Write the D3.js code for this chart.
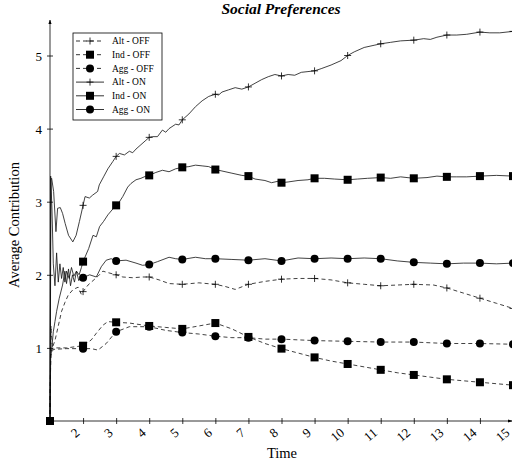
<!DOCTYPE html>
<html>
<head>
<meta charset="utf-8">
<script src="https://cdn.jsdelivr.net/npm/d3@7"></script>
<style>
  body { margin: 0; background: #fff; }
  text { font-family: "Liberation Serif", "DejaVu Serif", serif; fill: #000; }
</style>
</head>
<body>
<div id="chart"></div>
<script>
// [time, average contribution]
const altOff = [[1,0],[1.03,1.3],[1.07,1.0],[1.15,1.1],[1.25,1.3],[1.35,1.5],[1.45,1.62],[1.55,1.72],[1.7,1.8],[1.85,1.83],[1.95,1.73],[2,1.77],[2.15,1.86],[2.3,1.92],[2.45,1.98],[2.6,2.05],[2.75,2.03],[3,2.0],[3.2,1.97],[3.5,1.96],[3.8,1.97],[4,1.97],[4.3,1.93],[4.6,1.88],[5,1.87],[5.5,1.89],[6,1.87],[6.3,1.84],[6.6,1.8],[7,1.87],[7.5,1.91],[8,1.94],[8.5,1.95],[9,1.95],[9.5,1.93],[10,1.89],[10.5,1.87],[11,1.85],[11.5,1.86],[12,1.87],[12.6,1.86],[13,1.82],[13.5,1.75],[14,1.68],[14.5,1.61],[15,1.54]];
const indOff = [[1,0],[1.02,0.95],[1.1,1.0],[1.5,1.0],[2,1.03],[2.25,1.11],[2.4,1.2],[2.6,1.31],[2.75,1.36],[3,1.35],[3.4,1.34],[4,1.3],[4.5,1.28],[5,1.26],[5.5,1.3],[6,1.34],[6.5,1.26],[7,1.15],[7.5,1.06],[8,0.99],[8.5,0.93],[9,0.87],[9.5,0.82],[10,0.78],[10.5,0.74],[11,0.7],[11.5,0.66],[12,0.63],[12.5,0.6],[13,0.57],[13.5,0.55],[14,0.53],[14.5,0.51],[15,0.49]];
const aggOff = [[1,0],[1.02,0.9],[1.1,0.98],[1.5,0.99],[2,0.99],[2.25,0.99],[2.45,0.97],[2.7,1.06],[2.9,1.17],[3,1.22],[3.4,1.29],[4,1.29],[4.5,1.24],[5,1.21],[5.5,1.19],[6,1.16],[6.5,1.14],[7,1.14],[7.5,1.12],[8,1.12],[9,1.1],[10,1.09],[11,1.08],[12,1.08],[13,1.06],[14,1.06],[15,1.05]];
const altOn = [[1,0],[1.03,3.3],[1.05,3.32],[1.11,3.14],[1.18,2.59],[1.23,2.91],[1.31,2.92],[1.38,2.84],[1.46,2.7],[1.56,2.54],[1.69,2.45],[1.79,2.54],[1.89,2.73],[2,2.95],[2.06,3.07],[2.19,3.05],[2.29,3.09],[2.44,3.14],[2.49,3.23],[2.62,3.34],[2.75,3.45],[2.9,3.55],[3,3.62],[3.1,3.66],[3.25,3.64],[3.4,3.69],[3.5,3.67],[3.6,3.72],[3.75,3.78],[3.9,3.84],[4,3.88],[4.1,3.89],[4.25,3.89],[4.4,3.98],[4.5,3.95],[4.6,4.0],[4.8,4.06],[4.9,4.05],[5,4.12],[5.2,4.2],[5.4,4.3],[5.6,4.38],[5.8,4.44],[6,4.47],[6.1,4.46],[6.2,4.5],[6.4,4.53],[6.6,4.56],[6.8,4.54],[7,4.57],[7.2,4.62],[7.4,4.67],[7.6,4.71],[7.8,4.74],[8,4.72],[8.2,4.74],[8.4,4.73],[8.6,4.77],[8.8,4.78],[9,4.79],[9.2,4.82],[9.5,4.87],[9.8,4.93],[10,5.0],[10.2,5.05],[10.5,5.11],[10.8,5.14],[11,5.16],[11.3,5.18],[11.6,5.2],[12,5.21],[12.3,5.23],[12.5,5.22],[12.7,5.25],[13,5.28],[13.3,5.28],[13.6,5.29],[14,5.32],[14.3,5.31],[14.6,5.31],[15,5.33]];
const indOn = [[1,0],[1.02,3.35],[1.06,2.9],[1.1,2.15],[1.15,1.85],[1.2,2.3],[1.25,1.9],[1.3,2.15],[1.35,1.95],[1.4,2.1],[1.45,1.9],[1.5,2.05],[1.58,1.95],[1.65,2.1],[1.72,1.98],[1.8,2.05],[1.88,2.0],[1.95,2.1],[2,2.18],[2.17,2.36],[2.3,2.54],[2.4,2.52],[2.5,2.66],[2.62,2.73],[2.75,2.82],[2.9,2.9],[3,2.95],[3.1,3.0],[3.2,3.07],[3.35,3.2],[3.45,3.25],[3.6,3.3],[3.75,3.32],[3.9,3.35],[4,3.36],[4.2,3.4],[4.4,3.43],[4.6,3.41],[4.8,3.45],[5,3.47],[5.2,3.48],[5.4,3.5],[5.6,3.49],[5.8,3.48],[6,3.44],[6.2,3.42],[6.5,3.39],[6.8,3.36],[7,3.35],[7.2,3.31],[7.5,3.29],[7.7,3.26],[7.9,3.28],[8,3.26],[8.2,3.27],[8.5,3.29],[8.8,3.3],[9,3.32],[9.3,3.32],[9.6,3.31],[10,3.3],[10.3,3.31],[10.6,3.32],[11,3.33],[11.3,3.32],[11.6,3.34],[12,3.32],[12.4,3.33],[12.7,3.35],[13,3.34],[13.3,3.34],[13.6,3.34],[14,3.35],[14.5,3.36],[15,3.35]];
const aggOn = [[1,0],[1.02,0.85],[1.05,0.97],[1.1,1.22],[1.15,1.36],[1.2,1.5],[1.28,1.68],[1.38,1.86],[1.45,2.05],[1.5,1.88],[1.56,2.08],[1.62,1.85],[1.68,2.0],[1.74,1.9],[1.8,2.05],[1.87,1.92],[1.95,1.98],[2,1.96],[2.2,2.0],[2.4,1.97],[2.55,2.11],[2.7,2.2],[2.85,2.22],[3,2.19],[3.3,2.2],[3.6,2.16],[3.8,2.13],[4,2.14],[4.25,2.18],[4.6,2.24],[4.8,2.22],[5,2.21],[5.4,2.24],[5.7,2.22],[6,2.22],[6.5,2.21],[7,2.2],[7.5,2.22],[8,2.19],[8.5,2.23],[9,2.22],[9.5,2.23],[10,2.22],[10.5,2.23],[11,2.22],[11.5,2.19],[12,2.17],[12.5,2.16],[13,2.15],[13.5,2.16],[14,2.16],[14.5,2.15],[15,2.16]];

const seriesNames = ["Alt - OFF", "Ind - OFF", "Agg - OFF", "Alt - ON", "Ind - ON", "Agg - ON"];
const xTickValues = [2,3,4,5,6,7,8,9,10,11,12,13,14,15];
const yTickValues = [1,2,3,4,5];

const series = [
  { name: seriesNames[0], data: altOff, mark: "plus", dash: "4,3" },
  { name: seriesNames[1], data: indOff, mark: "square", dash: "4,3" },
  { name: seriesNames[2], data: aggOff, mark: "circle", dash: "4,3" },
  { name: seriesNames[3], data: altOn, mark: "plus", dash: null },
  { name: seriesNames[4], data: indOn, mark: "square", dash: null },
  { name: seriesNames[5], data: aggOn, mark: "circle", dash: null }
];

const width = 512;
const height = 466;
const x0 = 50, x1 = 512, y0 = 421;

const svg = d3.select("#chart").append("svg")
  .attr("width", width).attr("height", height);

const xScale = d3.scaleLinear().domain([1, 15]).range([x0, 513]);
const yScale = d3.scaleLinear().domain([0, 5]).range([y0, y0 - 5 * 73.1]);

// arrow head
svg.append("defs").append("marker")
  .attr("id", "arrow")
  .attr("viewBox", "0 0 10 10")
  .attr("refX", 9).attr("refY", 5)
  .attr("markerWidth", 6).attr("markerHeight", 6)
  .attr("orient", "auto")
  .append("path").attr("d", "M0,1.5 L10,5 L0,8.5 Z").attr("fill", "#000");

// title
svg.append("text")
  .attr("x", 281).attr("y", 14)
  .attr("text-anchor", "middle")
  .style("font-size", "15.5px").style("font-weight", "bold").style("font-style", "italic")
  .text("Social Preferences");

const line = d3.line().x(d => xScale(d[0])).y(d => yScale(d[1]));

const plot = svg.append("g");

function drawMark(g, type, cx, cy) {
  if (type === "square") {
    g.append("rect").attr("x", cx - 4).attr("y", cy - 4).attr("width", 8).attr("height", 8).attr("fill", "#000");
  } else if (type === "circle") {
    g.append("circle").attr("cx", cx).attr("cy", cy).attr("r", 4).attr("fill", "#000");
  } else {
    g.append("path")
      .attr("d", `M${cx - 3.5},${cy} H${cx + 3.5} M${cx},${cy - 3.5} V${cy + 3.5}`)
      .attr("stroke", "#000").attr("stroke-width", 0.8);
  }
}

series.forEach(s => {
  plot.append("path")
    .datum(s.data)
    .attr("d", line)
    .attr("fill", "none")
    .attr("stroke", "#111")
    .attr("stroke-width", 0.8)
    .attr("stroke-dasharray", s.dash);
  const g = plot.append("g");
  s.data.filter(d => Number.isInteger(d[0])).forEach(d => {
    drawMark(g, s.mark, xScale(d[0]), yScale(d[1]));
  });
});

// axes
const xAxis = d3.axisBottom(xScale).tickValues(xTickValues).tickSize(0).tickFormat(d3.format("d"));
const gx = svg.append("g")
  .attr("transform", `translate(0,${y0})`)
  .call(xAxis);
gx.select(".domain").remove();
gx.append("line").attr("x1", x0).attr("x2", x1).attr("stroke", "#000").attr("stroke-width", 0.8)
  .attr("marker-end", "url(#arrow)");
gx.selectAll(".tick").append("line").attr("y1", -3).attr("y2", 3).attr("stroke", "#000").attr("stroke-width", 0.8);
gx.selectAll(".tick text")
  .attr("y", 0).attr("dy", 0)
  .attr("transform", "translate(-3,13) rotate(-40)")
  .attr("text-anchor", "end")
  .style("font-size", "13px")
  .style("font-family", "'Liberation Serif', serif");

const yAxis = d3.axisLeft(yScale).tickValues(yTickValues).tickSize(0).tickFormat(d3.format("d"));
const gy = svg.append("g")
  .attr("transform", `translate(${x0},0)`)
  .call(yAxis);
gy.select(".domain").remove();
gy.append("line").attr("y1", y0).attr("y2", 20).attr("stroke", "#000").attr("stroke-width", 0.8)
  .attr("marker-end", "url(#arrow)");
gy.selectAll(".tick").append("line").attr("x1", -3).attr("x2", 3).attr("stroke", "#000").attr("stroke-width", 0.8);
gy.selectAll(".tick text")
  .attr("x", -8).attr("dy", "0.35em")
  .style("font-size", "13px")
  .style("font-family", "'Liberation Serif', serif");

// axis titles
svg.append("text")
  .attr("x", 282).attr("y", 458)
  .attr("text-anchor", "middle")
  .style("font-size", "14.5px")
  .text("Time");

svg.append("text")
  .attr("transform", "translate(19,225) rotate(-90)")
  .attr("text-anchor", "middle")
  .style("font-size", "14.5px")
  .text("Average Contribution");

// legend
const legend = svg.append("g");
legend.append("rect")
  .attr("x", 73).attr("y", 33).attr("width", 89).attr("height", 87)
  .attr("fill", "#fff").attr("stroke", "#000").attr("stroke-width", 0.8);
series.forEach((s, i) => {
  const ly = 41 + i * 13.7;
  legend.append("line")
    .attr("x1", 76).attr("x2", 104).attr("y1", ly).attr("y2", ly)
    .attr("stroke", "#000").attr("stroke-width", 0.8)
    .attr("stroke-dasharray", s.dash);
  drawMark(legend, s.mark, 90, ly);
  legend.append("text")
    .attr("x", 112).attr("y", ly).attr("dy", "0.35em")
    .style("font-size", "9.5px")
    .text(s.name);
});
</script>
</body>
</html>
